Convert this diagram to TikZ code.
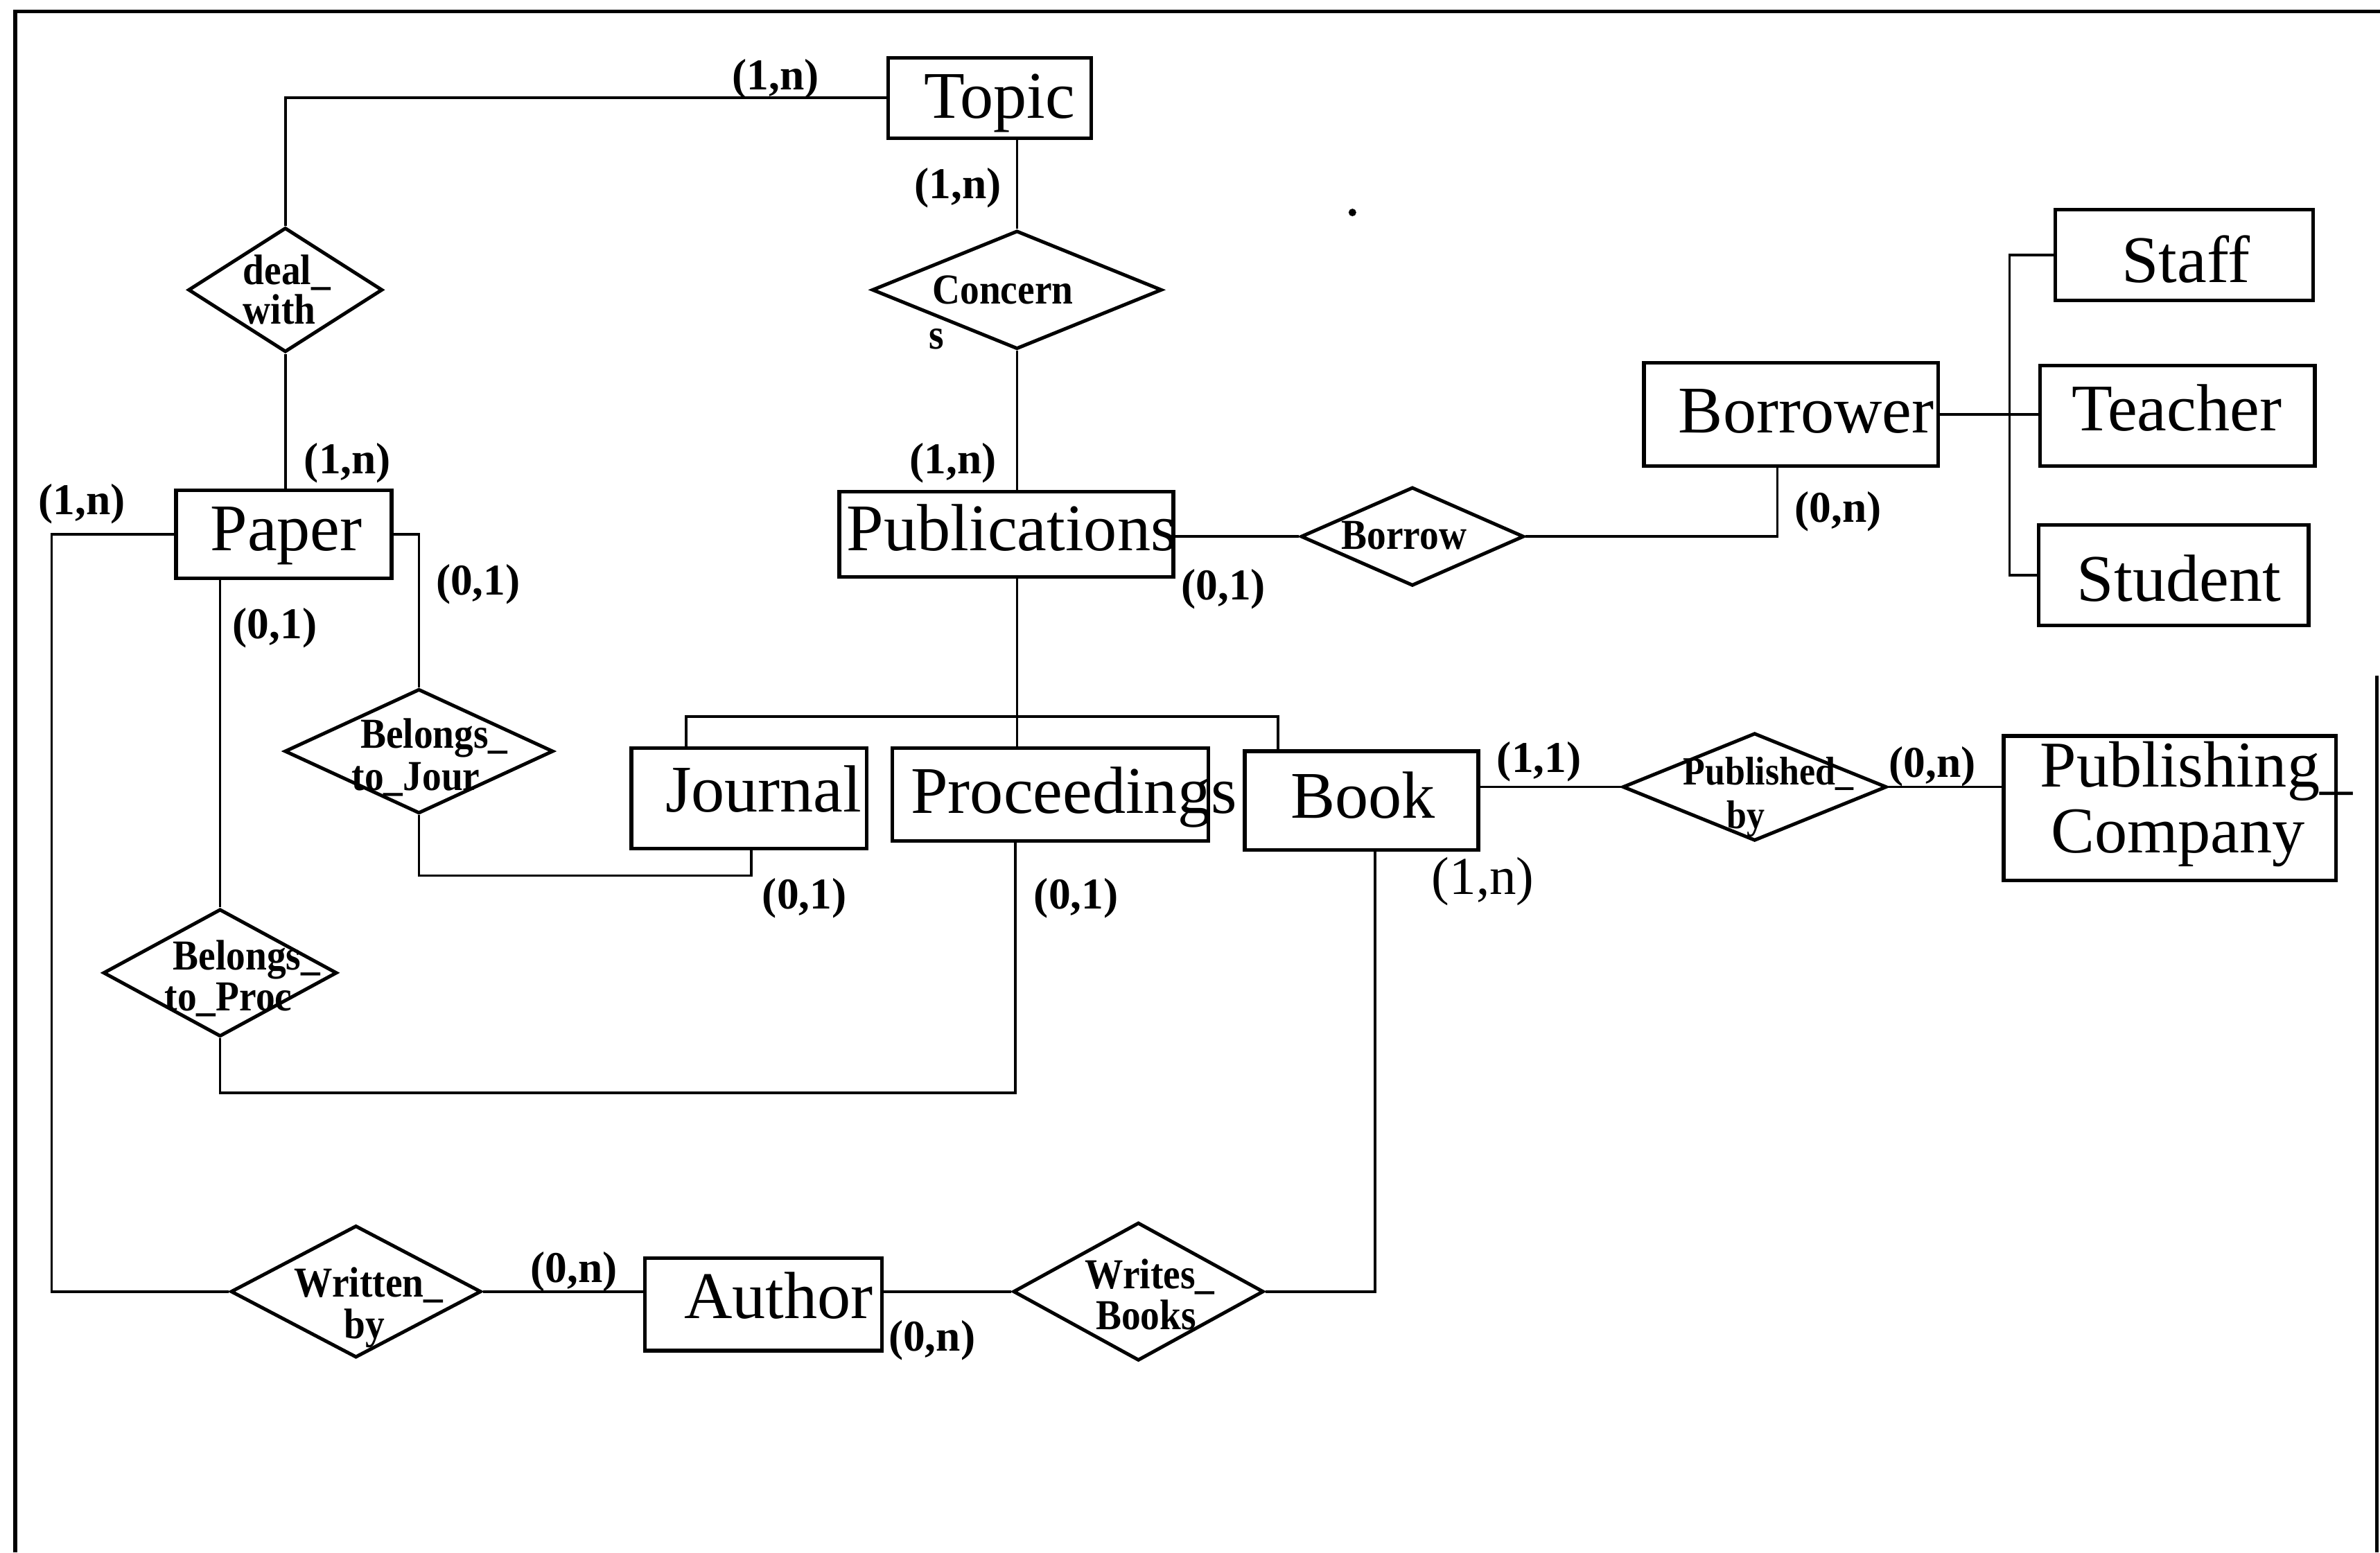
\documentclass[tikz,border=0pt]{standalone}
\usepackage{fontspec}
\setmainfont{Liberation Serif}
\newfontfamily\relfont[FakeStretch=0.9]{Liberation Serif}
\usetikzlibrary{shapes.geometric}
\begin{document}
\begin{tikzpicture}[x=0.02cm, y=-0.02cm,
  entity/.style={draw, line width=1.4pt, rectangle, inner sep=0pt},
  rel/.style={draw, line width=1.3pt, diamond, inner sep=0pt},
  ebox/.style 2 args={minimum width=#1*0.02cm, minimum height=#2*0.02cm},
  enttext/.style={anchor=base, inner sep=0pt, font=\fontsize{25}{21.5}\selectfont},
  cotext/.style={anchor=base, inner sep=0pt, font=\fontsize{24.5}{21}\selectfont},
  reltext/.style={anchor=base, inner sep=0pt, font=\relfont\bfseries\fontsize{16}{15}\selectfont},
  smallrel/.style={anchor=base, inner sep=0pt, font=\relfont\bfseries\fontsize{15}{14}\selectfont},
  card/.style={inner sep=0pt, font=\bfseries\fontsize{16.5}{18}\selectfont},
  bigcard/.style={inner sep=0pt, font=\fontsize{20}{22}\selectfont},
  link/.style={line width=0.95pt},
  frame/.style={line width=1.4pt}]
\useasboundingbox (0,0) rectangle (1568,1023);

% outer frame
\draw[frame] (10,1023) -- (10,7.5) -- (1568,7.5);
\draw[frame] (1566,445) -- (1566,1023);
\fill (891,140) circle[radius=0.05cm];

% entities
\node[entity, ebox={134}{53}] (topic) at (652,64.5) {};
\node[entity, ebox={142}{58}] (paper) at (187,352) {};
\node[entity, ebox={220}{56}] (pub) at (663,352) {};
\node[entity, ebox={194}{68}] (borrower) at (1180,273) {};
\node[entity, ebox={170}{60}] (staff) at (1439,168) {};
\node[entity, ebox={181}{66}] (teacher) at (1434.5,274) {};
\node[entity, ebox={178}{66}] (student) at (1432,379) {};
\node[entity, ebox={155}{66}] (journal) at (493.5,526) {};
\node[entity, ebox={208}{61}] (proc) at (692,523.5) {};
\node[entity, ebox={154}{65}] (book) at (897,527.5) {};
\node[entity, ebox={219}{95}] (pubco) at (1429.5,532.5) {};
\node[entity, ebox={156}{61}] (author) at (503,859.5) {};

\node[enttext] (topic-t) at (658.5,78) {Topic};
\node[enttext] (paper-t) at (188.6,363) {Paper};
\node[enttext] (pub-t) at (666.5,363) {Publications};
\node[enttext] (borrower-t) at (1190,285) {Borrower};
\node[enttext] (staff-t) at (1440,186) {Staff};
\node[enttext] (teacher-t) at (1434,284) {Teacher};
\node[enttext] (student-t) at (1435.5,396) {Student};
\node[enttext] (journal-t) at (503,535) {Journal};
\node[enttext] (proc-t) at (707.5,536) {Proceedings};
\node[enttext] (book-t) at (898,539) {Book};
\node[cotext] (pubco-t1) at (1447,518.5) {Publishing\_};
\node[cotext] (pubco-t2) at (1435,562) {Company};
\node[enttext] (author-t) at (513,868.5) {Author};

% relationships
\node[rel, ebox={128}{82}] (dealw) at (188,191) {};
\node[rel, ebox={191}{78}] (concern) at (670,191) {};
\node[rel, ebox={147}{65}] (borrow) at (930.5,353.5) {};
\node[rel, ebox={177}{82}] (belj) at (276,495) {};
\node[rel, ebox={154}{84}] (belp) at (145,641) {};
\node[rel, ebox={165}{87}] (writby) at (234.5,851) {};
\node[rel, ebox={165}{91}] (writbk) at (750,851) {};
\node[rel, ebox={174}{71}] (pubby) at (1156,518.5) {};

\node[reltext] (dealw-t1) at (189,187.5) {deal\_};
\node[reltext] (dealw-t2) at (184,213.6) {with};
\node[reltext] (concern-t1) at (660.7,200) {Concern};
\node[reltext] (concern-t2) at (617,229.7) {s};
\node[reltext] (borrow-t) at (925,362) {Borrow};
\node[reltext] (belj-t1) at (286,493) {Belongs\_};
\node[reltext] (belj-t2) at (274,520.6) {to\_Jour};
\node[reltext] (belp-t1) at (162.5,639) {Belongs\_};
\node[reltext] (belp-t2) at (150.5,666) {to\_Proc};
\node[reltext] (writby-t1) at (243,854.5) {Written\_};
\node[reltext] (writby-t2) at (240,882) {by};
\node[reltext] (writbk-t1) at (757.5,849) {Writes\_};
\node[reltext] (writbk-t2) at (755,876) {Books};
\node[smallrel] (pubby-t1) at (1165,517) {Published\_};
\node[smallrel] (pubby-t2) at (1150,546) {by};

% bend points of the connectors
\coordinate (lbar) at (34,0);
\coordinate (jbend) at (495,577);
\coordinate (pbend) at (669,720);
\coordinate (hj) at (452,472);
\coordinate (hv) at (670,472);
\coordinate (hb) at (842,472);
\coordinate (bbar) at (1171,0);
\coordinate (isa) at (1324,0);
\coordinate (bkbar) at (906,0);

% connectors
\draw[link] (topic.west) -| (dealw.north);
\draw[link] (dealw.south) -- (dealw.south |- paper.north);
\draw[link] (concern.north |- topic.south) -- (concern.north);
\draw[link] (concern.south) -- (concern.south |- pub.north);
\draw[link] (paper.west) -| (lbar |- writby.west) -- (writby.west);
\draw[link] (paper.east) -| (belj.north);
\draw[link] (belp.north |- paper.south) -- (belp.north);
\draw[link] (belj.south) |- (jbend) -- (jbend |- journal.south);
\draw[link] (pbend |- proc.south) -- (pbend) -| (belp.south);
\draw[link] (hv |- pub.south) -- (hv |- proc.north);
\draw[link] (hj |- journal.north) -- (hj) -- (hb) -- (hb |- book.north);
\draw[link] (borrow.west -| pub.east) -- (borrow.west);
\draw[link] (borrow.east) -| (bbar |- borrower.south);
\draw[link] (borrower.east) -- (borrower.east -| teacher.west);
\draw[link] (staff.west) -| (isa |- student.west) -- (student.west);
\draw[link] (pubby.west -| book.east) -- (pubby.west);
\draw[link] (pubby.east) -- (pubby.east -| pubco.west);
\draw[link] (writbk.east) -| (bkbar |- book.south);
\draw[link] (writbk.west) -- (writbk.west -| author.east);
\draw[link] (writby.east) -- (writby.east -| author.west);

% cardinalities
\node[card] (c1) at (511,52) {(1,n)};
\node[card] (c2) at (631,124) {(1,n)};
\node[card] (c3) at (229,305) {(1,n)};
\node[card] (c4) at (54,332) {(1,n)};
\node[card] (c5) at (315,385) {(0,1)};
\node[card] (c6) at (181,414) {(0,1)};
\node[card] (c7) at (628,305) {(1,n)};
\node[card] (c8) at (806,388) {(0,1)};
\node[card] (c9) at (1211,337) {(0,n)};
\node[card] (c10) at (530,592) {(0,1)};
\node[card] (c11) at (709,592) {(0,1)};
\node[card] (c12) at (1014,502) {(1,1)};
\node[card] (c13) at (1273,505) {(0,n)};
\node[bigcard] (c14) at (977,581) {(1,n)};
\node[card] (c15) at (378,838) {(0,n)};
\node[card] (c16) at (614,883) {(0,n)};
\end{tikzpicture}
\end{document}
